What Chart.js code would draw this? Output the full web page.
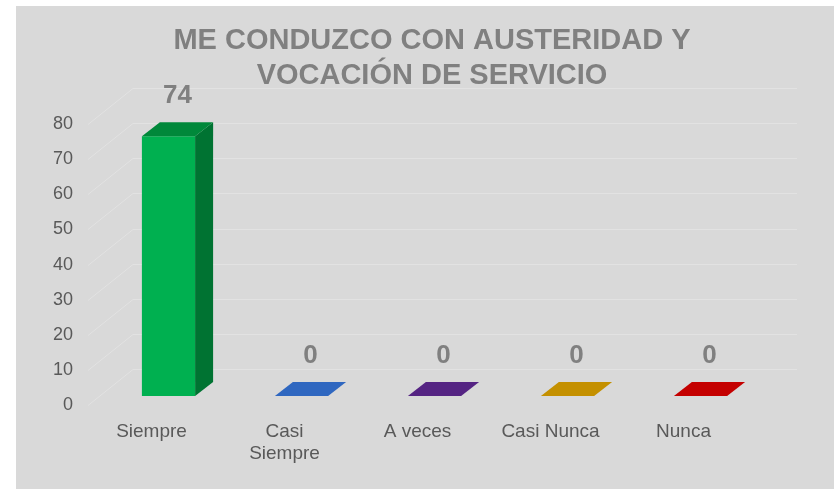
<!DOCTYPE html>
<html>
<head>
<meta charset="utf-8">
<script src="https://cdn.jsdelivr.net/npm/chart.js@4/dist/chart.umd.min.js"></script>
<style>
html, body { margin: 0; padding: 0; background: #fff; }
#wrap { width: 834px; height: 489px; }
</style>
</head>
<body>
<div id="wrap"><canvas id="mycanvas"></canvas></div>
<script>
// chart data
var categories = ['Siempre', ['Casi', 'Siempre'], 'A veces', 'Casi Nunca', 'Nunca'];
var values     = [74, 0, 0, 0, 0];
var yTicks     = [0, 10, 20, 30, 40, 50, 60, 70, 80];
var titleLines = ['ME CONDUZCO CON AUSTERIDAD Y', 'VOCACIÓN DE SERVICIO'];

// colours per bar: front, top, side
var frontColors = ['#00b050', '#2f67c0', '#552483', '#c49000', '#c40000'];
var topColors   = ['#00883a', '#2f67c0', '#552483', '#c49000', '#c40000'];
var sideColors  = ['#007332', '#24509a', '#431c68', '#9c7300', '#9a0000'];

var FONT = "'Liberation Sans', Arial, sans-serif";
var DX = 18, DY = -14;      // depth of a bar
var WX = 31, WY = -27;      // depth of the back wall

// grey chart box
var background = {
	id: 'background',
	beforeDraw: function(chart) {
		var ctx = chart.ctx;
		ctx.save();
		ctx.fillStyle = '#ffffff';
		ctx.fillRect(0, 0, chart.width, chart.height);
		ctx.fillStyle = '#d9d9d9';
		ctx.fillRect(16, 6, chart.width - 16, chart.height - 6);
		ctx.restore();
	}
};

// back wall + side wall gridlines
var wallGrid = {
	id: 'wallGrid',
	beforeDatasetsDraw: function(chart) {
		var ctx = chart.ctx, a = chart.chartArea, y = chart.scales.y;
		ctx.save();
		ctx.strokeStyle = '#e2e2e2';
		ctx.lineWidth = 1;
		yTicks.forEach(function(v) {
			var py = Math.round(y.getPixelForValue(v)) + 0.5;
			ctx.beginPath();
			ctx.moveTo(a.left - 14, py + 9);
			ctx.lineTo(a.left + WX, py + WY);
			ctx.lineTo(a.right + WX - 1, py + WY);
			ctx.stroke();
		});
		ctx.restore();
	}
};

// top and side faces of each bar, then value labels
var bars3d = {
	id: 'bars3d',
	afterDatasetsDraw: function(chart) {
		var ctx = chart.ctx;
		var meta = chart.getDatasetMeta(0);
		ctx.save();
		meta.data.forEach(function(bar, i) {
			var l = bar.x - bar.width / 2, r = bar.x + bar.width / 2;
			var t = bar.y, b = bar.base;
			// side
			if (b - t > 0) {
				ctx.fillStyle = sideColors[i];
				ctx.beginPath();
				ctx.moveTo(r, t);
				ctx.lineTo(r + DX, t + DY);
				ctx.lineTo(r + DX, b + DY);
				ctx.lineTo(r, b);
				ctx.closePath();
				ctx.fill();
			}
			// top
			ctx.fillStyle = topColors[i];
			ctx.beginPath();
			ctx.moveTo(l, t);
			ctx.lineTo(r, t);
			ctx.lineTo(r + DX, t + DY);
			ctx.lineTo(l + DX, t + DY);
			ctx.closePath();
			ctx.fill();
			// value
			ctx.fillStyle = '#808080';
			ctx.font = 'bold 26px ' + FONT;
			ctx.textAlign = 'center';
			ctx.textBaseline = 'alphabetic';
			ctx.fillText(String(values[i]), bar.x + DX / 2, t - 33);
		});
		ctx.restore();
	}
};

var ctx = document.getElementById('mycanvas');

var mycanvas = new Chart(ctx, {
	type: 'bar',
	data: {
		labels: categories,
		datasets: [{
			data: values,
			backgroundColor: frontColors,
			borderWidth: 0,
			barPercentage: 0.4,
			categoryPercentage: 1.0
		}]
	},
	options: {
		responsive: true,
		maintainAspectRatio: false,
		animation: false,
		events: [],
		layout: { padding: { left: 30, right: 0, top: 0, bottom: 0 } },
		plugins: {
			legend: { display: false },
			tooltip: { enabled: false },
			title: {
				display: true,
				text: titleLines,
				color: '#808080',
				font: { family: FONT, size: 29, weight: 'bold', lineHeight: 1.21 },
				padding: { top: 23, bottom: 22 }
			}
		},
		scales: {
			x: {
				grid: { display: false, drawTicks: false },
				border: { display: false },
				ticks: {
					color: '#595959',
					font: { family: FONT, size: 19, lineHeight: 1.2 },
					labelOffset: -17,
					padding: 24,
					maxRotation: 0,
					autoSkip: false
				},
				afterFit: function(scale) { scale.height = 93; }
			},
			y: {
				min: 0,
				max: 80,
				grid: { display: false, drawTicks: false },
				border: { display: false },
				ticks: {
					stepSize: 10,
					color: '#595959',
					font: { family: FONT, size: 18 },
					padding: 29,
					labelOffset: 9
				},
				afterFit: function(scale) {
					scale.width = 72;
					scale.paddingTop = 0;
					scale.paddingBottom = 0;
				}
			},
			// empty right margin so the title centres on the whole box
			yRight: {
				position: 'right',
				grid: { display: false, drawTicks: false },
				border: { display: false },
				ticks: { display: false },
				afterFit: function(scale) {
					scale.width = 67;
					scale.paddingTop = 0;
					scale.paddingBottom = 0;
				}
			}
		}
	},
	plugins: [background, wallGrid, bars3d]
});
</script>
</body>
</html>
